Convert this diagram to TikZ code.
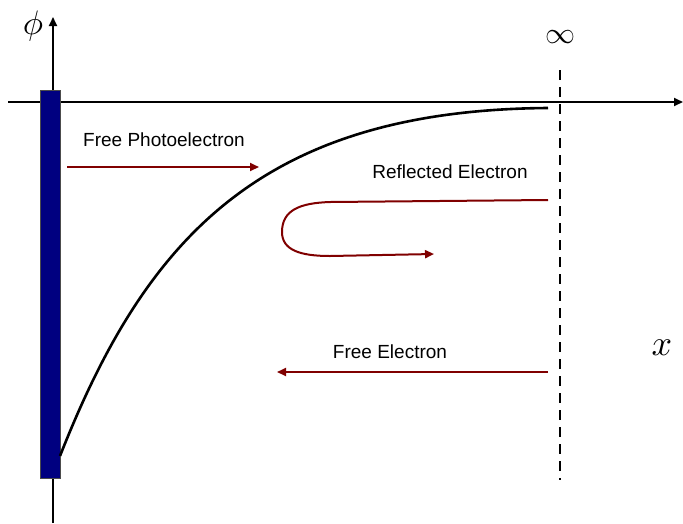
\documentclass[tikz,border=0pt]{standalone}
\usepackage{fontspec}
\setmainfont{Liberation Sans}
\usetikzlibrary{arrows.meta}
\definecolor{barblue}{RGB}{0,0,128}
\definecolor{edred}{RGB}{128,0,0}
\tikzset{
  axis/.style={line width=1.8pt,-{Triangle[length=9pt,width=8pt]}},
  eline/.style={edred,line width=2pt,-{Triangle[length=9pt,width=8pt]}},
  lbl/.style={font=\fontsize{19}{21}\selectfont,inner sep=0pt},
}
\begin{document}
\begin{tikzpicture}[x=1pt,y=-1pt]
\useasboundingbox[fill=white] (0,0) rectangle (683,523);
% axes
\coordinate (yb) at (53,523);
\coordinate (yt) at (53,17);
\coordinate (xl) at (8,102);
\coordinate (xr) at (683,102);
\draw[axis] (yb) -- (yt);
\draw[axis] (xl) -- (xr);
\node[inner sep=0pt] (phi) at (33,26) {\scalebox{3.4}{$\phi$}};
\node (xlab) at (662,348) {\scalebox{3.6}{$x$}};
% bar
\node[draw=black!70,fill=barblue,line width=0.6pt,minimum width=20pt,minimum height=388pt,inner sep=0pt,anchor=north west] (bar) at (40,90) {};
% curve
\coordinate (c0) at (60,456);
\coordinate (c1) at (548,108);
\draw[line width=2.6pt] (c0) .. controls (145,240) and (260,110) .. (c1);
% dashed infinity line
\coordinate (dt) at (560,70);
\coordinate (db) at (560,480);
\draw[line width=1.8pt,dash pattern=on 10pt off 7pt] (dt) -- (db);
\node (inf) at (560,37) {\scalebox{3}{$\infty$}};
% free photoelectron
\node[lbl] (fp) at (164,140) {Free Photoelectron};
\coordinate (fp0) at (67,167);
\coordinate (fp1) at (259,167);
\draw[eline] (fp0) -- (fp1);
% reflected electron
\node[lbl] (re) at (450,172) {Reflected Electron};
\coordinate (r0) at (548,200);
\coordinate (r1) at (434,254);
\draw[eline] (r0) -- (330,202) .. controls (300,203) and (282,210) .. (282,232)
  .. controls (282,250) and (300,256) .. (330,256) -- (r1);
% free electron
\node[lbl] (fe) at (390,352) {Free Electron};
\coordinate (fe0) at (548,372);
\coordinate (fe1) at (277,372);
\draw[eline] (fe0) -- (fe1);
\end{tikzpicture}
\end{document}
